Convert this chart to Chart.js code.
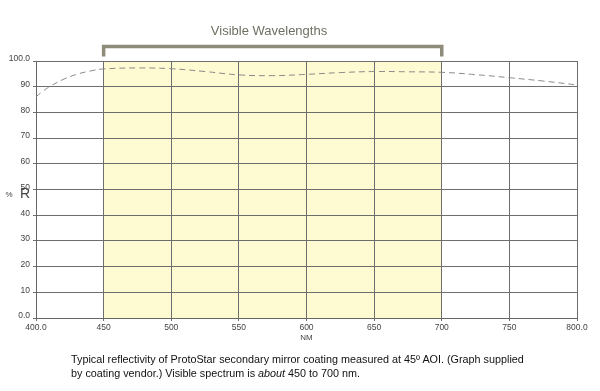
<!DOCTYPE html>
<html>
<head>
<meta charset="utf-8">
<script src="https://cdn.jsdelivr.net/npm/chart.js@4.4.1/dist/chart.umd.min.js"></script>
<style>
  html, body { margin: 0; padding: 0; background: #ffffff; }
  #wrap { position: relative; width: 600px; height: 391px; }
  canvas { position: absolute; left: 0; top: 0; }
  #caption { position: absolute; left: 71px; top: 352px; font-family: "Liberation Sans", Arial, sans-serif; font-size: 10.8px; line-height: 14px; color: #111; white-space: nowrap; }
</style>
</head>
<body>
<div id="wrap">
  <canvas id="c" width="600" height="391"></canvas>
  <div id="caption">Typical reflectivity of ProtoStar secondary mirror coating measured at 45º AOI. (Graph supplied<br>by coating vendor.) Visible spectrum is <i>about</i> 450 to 700 nm.</div>
</div>
<script>
// Data
const wavelengths = [400, 405, 410, 420, 430, 440, 450, 475, 500, 525, 550, 575, 600, 625, 650, 675, 700, 725, 750, 775, 800];
const reflectivity = [86.1, 88.2, 90.0, 92.8, 94.8, 96.1, 96.9, 97.3, 97.0, 95.9, 94.6, 94.3, 94.8, 95.5, 95.9, 95.8, 95.6, 94.7, 93.5, 92.2, 90.7];
const visibleRange = [450, 700];
const titleText = "Visible Wavelengths";
const xAxisLabel = "NM";
const yAxisLabel = ["%", "R"];

const points = wavelengths.map((w, i) => ({ x: w, y: reflectivity[i] }));

const decor = {
  id: 'decor',
  beforeDraw(chart) {
    const { ctx, chartArea, scales } = chart;
    const x1 = scales.x.getPixelForValue(visibleRange[0]);
    const x2 = scales.x.getPixelForValue(visibleRange[1]);
    ctx.save();
    ctx.fillStyle = '#fefad1';
    ctx.fillRect(x1, chartArea.top, x2 - x1, chartArea.bottom - chartArea.top);
    ctx.restore();
  },
  afterDraw(chart) {
    const { ctx, chartArea, scales } = chart;
    const x1 = scales.x.getPixelForValue(visibleRange[0]);
    const x2 = scales.x.getPixelForValue(visibleRange[1]);
    ctx.save();
    // bracket
    ctx.strokeStyle = '#8e8b78';
    ctx.lineWidth = 3.5;
    ctx.lineJoin = 'miter';
    ctx.beginPath();
    ctx.moveTo(x1, 56.5);
    ctx.lineTo(x1, 46.5);
    ctx.lineTo(x2, 46.5);
    ctx.lineTo(x2, 56.5);
    ctx.stroke();
    // title
    ctx.fillStyle = '#6f6e62';
    ctx.font = '13px "Liberation Sans", Arial, sans-serif';
    ctx.textAlign = 'center';
    ctx.textBaseline = 'middle';
    ctx.fillText(titleText, 269, 31);
    // x axis label
    ctx.fillStyle = '#444';
    ctx.font = '8px "Liberation Sans", Arial, sans-serif';
    ctx.fillText(xAxisLabel, scales.x.getPixelForValue(600), 338);
    // y axis label
    ctx.font = '8px "Liberation Sans", Arial, sans-serif';
    ctx.fillText(yAxisLabel[0], 9, 195);
    ctx.font = '14px "Liberation Sans", Arial, sans-serif';
    ctx.fillText(yAxisLabel[1], 25, 194);
    ctx.restore();
  }
};

const tickFont = { family: '"Liberation Sans", Arial, sans-serif', size: 8.5 };

new Chart(document.getElementById('c'), {
  type: 'line',
  data: {
    datasets: [{
      data: points,
      borderColor: '#8a8a8a',
      borderWidth: 1,
      borderDash: [6, 4],
      pointRadius: 0,
      tension: 0.4,
      fill: false
    }]
  },
  options: {
    responsive: false,
    animation: false,
    devicePixelRatio: 1,
    layout: { padding: { top: 61, right: 23, left: 0, bottom: 0 } },
    plugins: { legend: { display: false }, tooltip: { enabled: false } },
    scales: {
      x: {
        type: 'linear',
        min: 400, max: 800,
        border: { display: true, color: '#666', width: 1 },
        grid: { color: '#6e6e6e', lineWidth: 1, tickLength: 3, drawTicks: true },
        ticks: {
          stepSize: 50, color: '#444', font: tickFont, padding: 2, maxRotation: 0,
          callback: v => (v === 400 || v === 800) ? v.toFixed(1) : String(v)
        },
        afterFit: s => { s.height = 391 - 318; }
      },
      y: {
        type: 'linear',
        min: 0, max: 100,
        border: { display: true, color: '#666', width: 1 },
        grid: { color: '#6e6e6e', lineWidth: 1, tickLength: 3 },
        ticks: {
          stepSize: 10, color: '#444', font: tickFont, padding: 3, labelOffset: -2,
          callback: v => (v === 0 || v === 100) ? v.toFixed(1) : String(v)
        },
        afterFit: s => { s.width = 36; }
      }
    }
  },
  plugins: [decor]
});
</script>
</body>
</html>
